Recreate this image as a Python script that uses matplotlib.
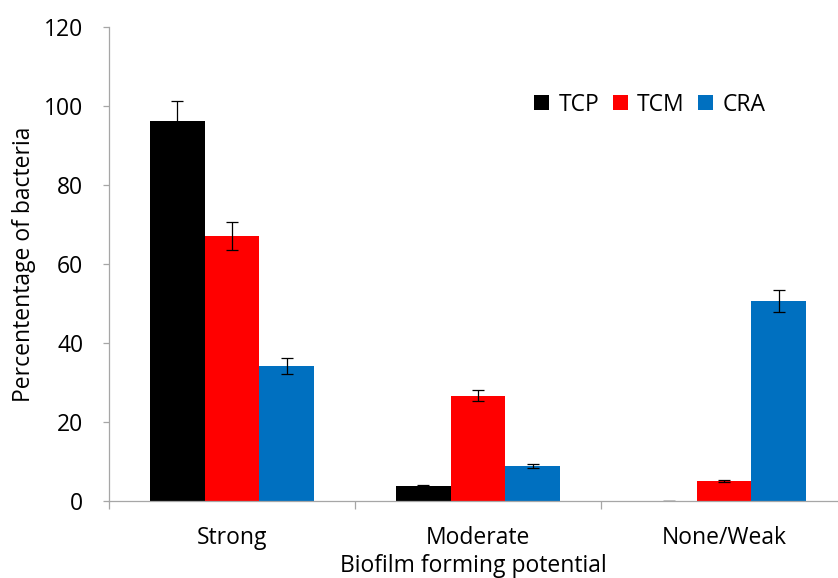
import matplotlib
matplotlib.use('Agg')
import matplotlib.pyplot as plt
import numpy as np

plt.rcParams['font.family'] = ['Open Sans', 'DejaVu Sans']

categories = ['Strong', 'Moderate', 'None/Weak']
methods = ['TCP', 'TCM', 'CRA']
colors = ['#000000', '#FF0000', '#0070C0']

tcp = [96.2, 3.8, 0.0]
tcm = [67.1, 26.6, 5.1]
cra = [34.2, 8.9, 50.6]
tcp_err = [5.0, 0.3, 0.0]
tcm_err = [3.5, 1.4, 0.3]
cra_err = [2.0, 0.5, 2.7]

values = [tcp, tcm, cra]
errors = [tcp_err, tcm_err, cra_err]

fs = 16.5

fig = plt.figure(figsize=(8.38, 5.78), dpi=100)
ax = fig.add_axes([0.130, 0.1332, 0.870, 0.8201])

x = np.arange(len(categories))
width = 0.222
for i, (vals, errs) in enumerate(zip(values, errors)):
    ax.bar(x + (i - 1) * width, vals, width, color=colors[i], label=methods[i],
           yerr=errs, capsize=4.3,
           error_kw=dict(elinewidth=0.9, capthick=0.9, ecolor='black'))

ax.set_xlim(-0.5, 2.463)
ax.set_ylim(0, 120)
ax.set_yticks(np.arange(0, 121, 20))
ax.set_xticks(x)
ax.set_xticklabels(categories)
ax.set_xticks([-0.5, 0.5, 1.5], minor=True)
ax.tick_params(axis='x', which='major', length=0, pad=18, labelsize=fs)
ax.tick_params(axis='x', which='minor', length=5.8, width=0.9, color='#A6A6A6')
ax.tick_params(axis='y', length=4.5, width=0.9, color='#A6A6A6', labelsize=fs, pad=14)

for side in ['top', 'right']:
    ax.spines[side].set_visible(False)
for side in ['left', 'bottom']:
    ax.spines[side].set_color('#A6A6A6')
    ax.spines[side].set_linewidth(0.9)

ax.set_ylabel('Percententage of bacteria', fontsize=fs, labelpad=6)
ax.set_xlabel('Biofilm forming potential', fontsize=fs, labelpad=3)

ax.legend(loc='upper left', bbox_to_anchor=(0.555, 0.905), ncol=3, frameon=False,
          fontsize=fs, handlelength=0.65, handleheight=0.65, handletextpad=0.4,
          columnspacing=0.6)

fig.savefig('out.png', dpi=100, facecolor='white')
